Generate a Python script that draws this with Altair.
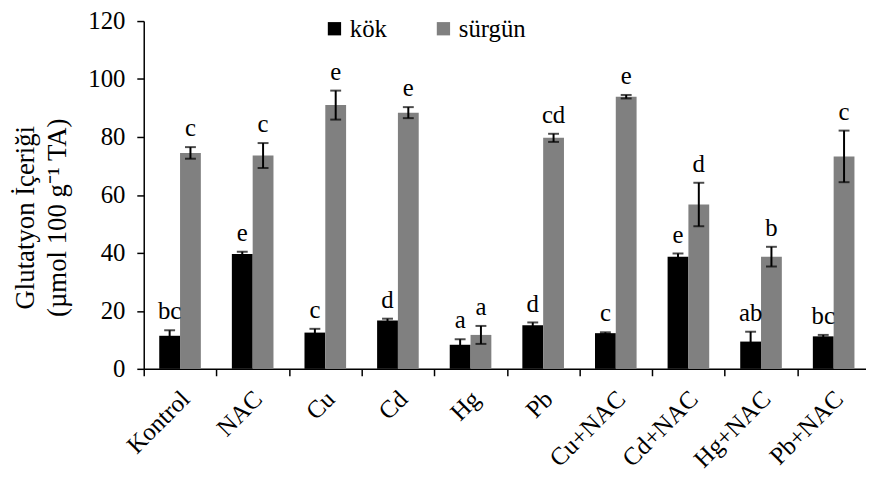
import altair as alt
import pandas as pd

categories = ["Kontrol", "NAC", "Cu", "Cd", "Hg", "Pb", "Cu+NAC", "Cd+NAC", "Hg+NAC", "Pb+NAC"]
series = ["kök", "sürgün"]
kok = [11.4, 39.6, 12.5, 16.7, 8.3, 15.0, 12.3, 38.7, 9.4, 11.2]
kok_err = [1.9, 0.8, 1.3, 0.6, 1.9, 1.0, 0.3, 1.1, 3.4, 0.5]
surgun = [74.5, 73.6, 91.0, 88.4, 11.7, 79.7, 93.9, 56.7, 38.7, 73.3]
surgun_err = [2.0, 4.3, 5.0, 1.9, 3.1, 1.4, 0.6, 7.5, 3.4, 8.9]
kok_letters = ["bc", "e", "c", "d", "a", "d", "c", "e", "ab", "bc"]
surgun_letters = ["c", "c", "e", "e", "a", "cd", "e", "d", "b", "c"]

rows = []
for i, c in enumerate(categories):
    for s, vals, errs, lets in [("kök", kok, kok_err, kok_letters),
                                ("sürgün", surgun, surgun_err, surgun_letters)]:
        v, e = vals[i], errs[i]
        rows.append({"cat": c, "series": s, "value": v,
                     "lo": v - e, "hi": v + e, "letter": lets[i]})
df = pd.DataFrame(rows)

FONT = "Liberation Serif"

x = alt.X("cat:N", sort=categories,
          scale=alt.Scale(paddingInner=0, paddingOuter=0, range=[0, 733]),
          axis=alt.Axis(title=None, labelAngle=-45, labelAlign="right",
                        labelBaseline="middle", labelFontSize=25, labelFont=FONT,
                        labelColor="black", labelPadding=19, tickBand="extent",
                        tickSize=7, tickColor="black", tickWidth=1.5,
                        domainColor="black", domainWidth=1.5, labelOffset=5))
xo = alt.XOffset("series:N", sort=series,
                 scale=alt.Scale(paddingInner=0, paddingOuter=0.745))
color = alt.Color("series:N", sort=series,
                  scale=alt.Scale(domain=series, range=["#000000", "#808080"]),
                  legend=alt.Legend(title=None, orient="none", legendX=180, legendY=-5,
                                    direction="horizontal", symbolType="square",
                                    symbolSize=180, symbolStrokeWidth=0,
                                    labelFontSize=25, labelFont=FONT, labelColor="black",
                                    labelOffset=3, columnPadding=44))

y_axis = alt.Axis(title=["Glutatyon İçeriği", "(µmol 100 g⁻¹ TA)"],
                  titleFontSize=27, titleFont=FONT, titleFontWeight="normal",
                  titleColor="black", titleLineHeight=33, titlePadding=16,
                  titleY=198,
                  values=[0, 20, 40, 60, 80, 100, 120], labelFontSize=25,
                  labelFont=FONT, labelColor="black", labelPadding=12, tickSize=7,
                  tickColor="black", tickWidth=1.5, domainColor="black",
                  domainWidth=1.5, grid=False)
y_scale = alt.Scale(domain=[0, 120], nice=False)

base = alt.Chart(df)
bars = base.mark_bar().encode(
    x=x, xOffset=xo,
    y=alt.Y("value:Q", scale=y_scale, axis=y_axis),
    color=color,
)
err = base.mark_rule(color="black", strokeWidth=2).encode(
    x=alt.X("cat:N", sort=categories), xOffset=xo,
    y=alt.Y("lo:Q"), y2="hi:Q",
)
cap_hi = base.mark_tick(color="black", thickness=2, size=11, orient="horizontal").encode(
    x=alt.X("cat:N", sort=categories), xOffset=xo, y=alt.Y("hi:Q"),
)
cap_lo = base.mark_tick(color="black", thickness=2, size=11, orient="horizontal").encode(
    x=alt.X("cat:N", sort=categories), xOffset=xo, y=alt.Y("lo:Q"),
)
labels = base.mark_text(font=FONT, fontSize=25, color="black",
                        baseline="alphabetic", dy=-11).encode(
    x=alt.X("cat:N", sort=categories), xOffset=xo, y=alt.Y("hi:Q"),
    text="letter:N",
)

chart = alt.layer(bars, err, cap_hi, cap_lo, labels).properties(
    width=729, height=351,
    autosize=alt.AutoSizeParams(type="none"),
    padding={"left": 137, "top": 11, "right": 0, "bottom": 106},
    background="white",
).configure_view(stroke=None)

chart.save("out.html", embed_options={"renderer": "svg", "actions": False})
